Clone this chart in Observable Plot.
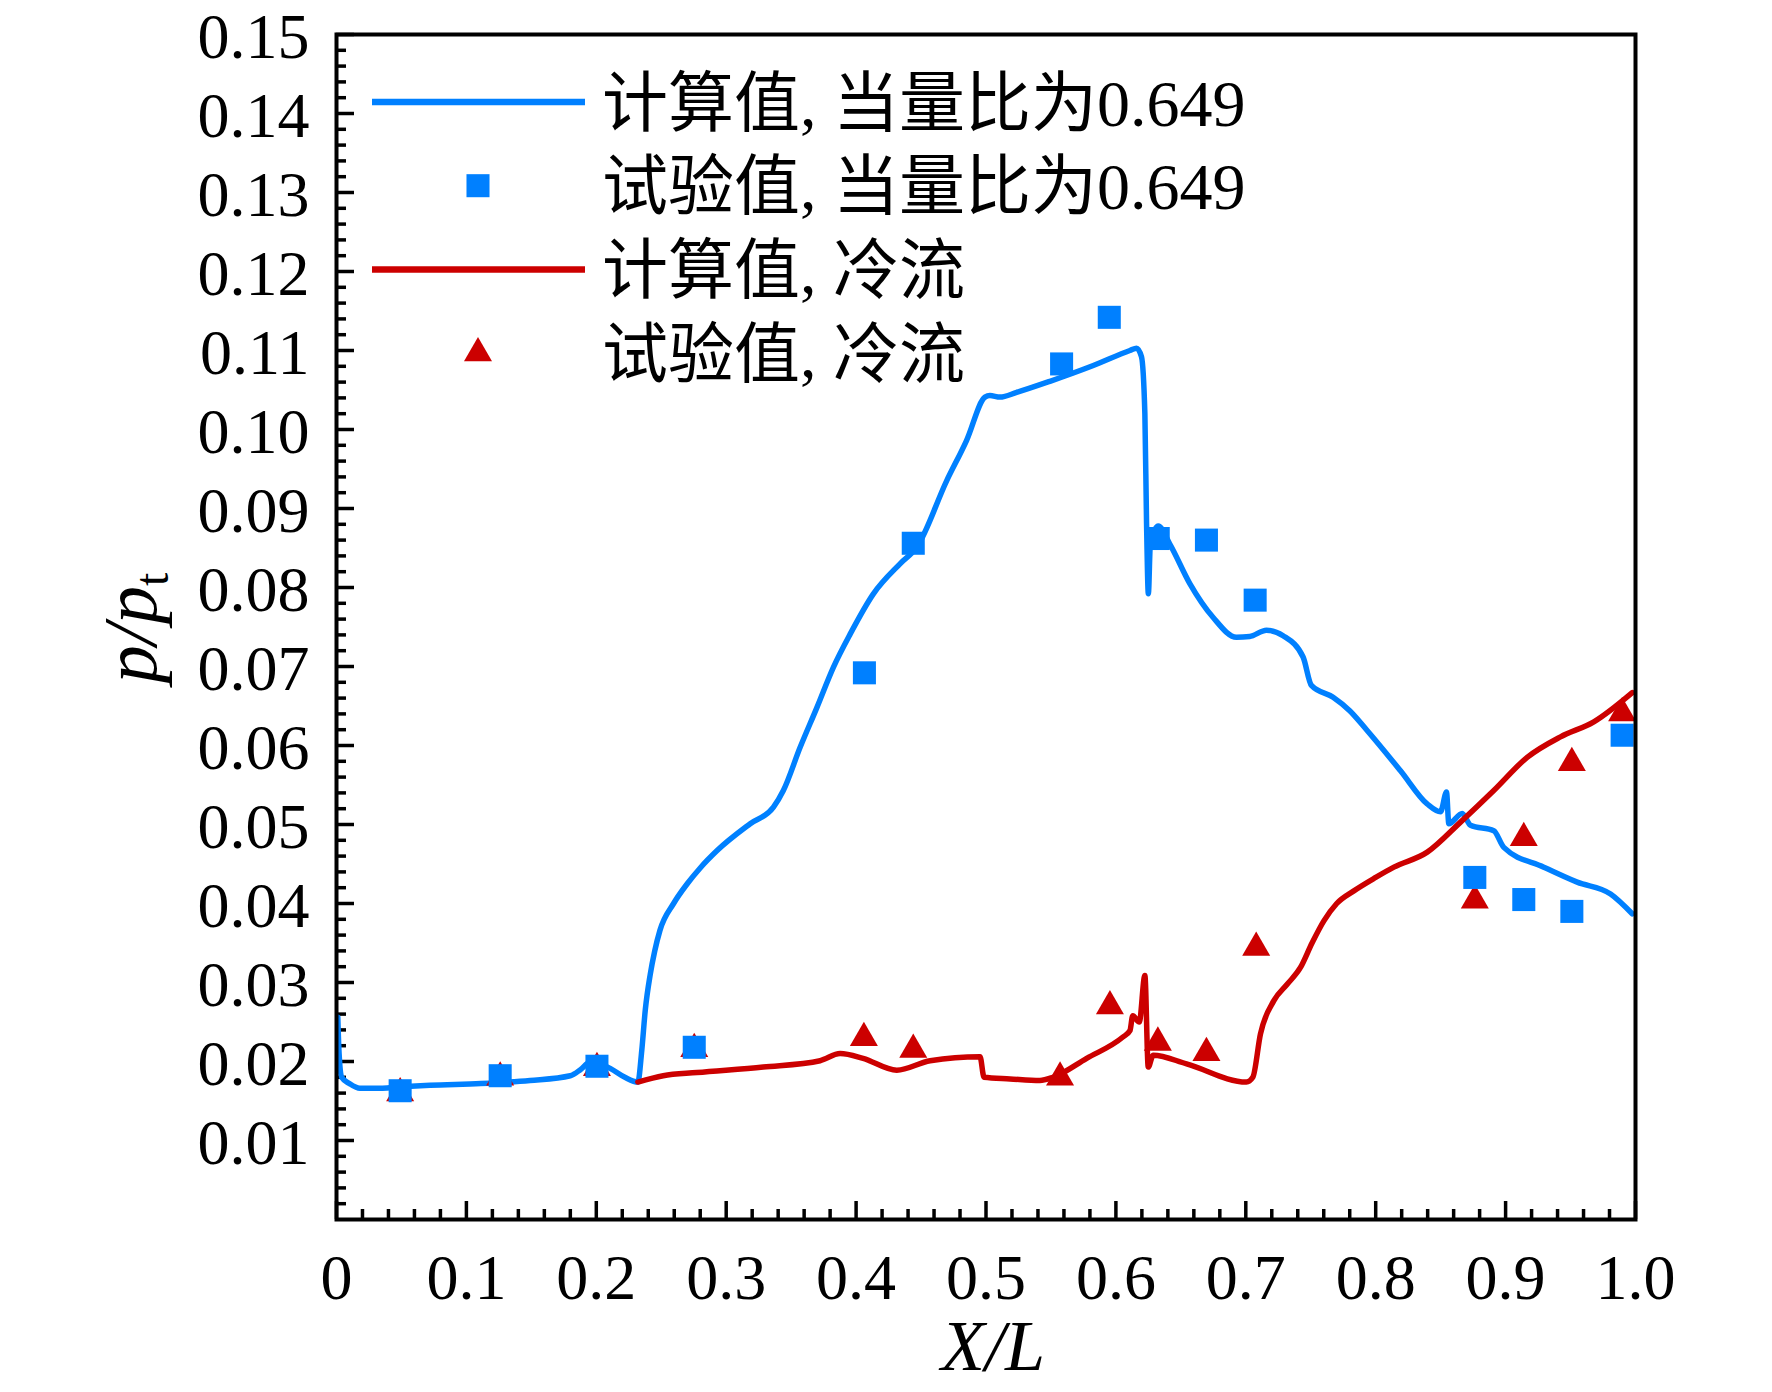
<!DOCTYPE html>
<html>
<head>
<meta charset="utf-8">
<script src="https://cdn.jsdelivr.net/npm/d3@7"></script>
<script src="https://cdn.jsdelivr.net/npm/@observablehq/plot@0.6"></script>
<style>
  html, body { margin: 0; padding: 0; background: #fff; }
  #chart svg { display: block; }
</style>
</head>
<body>
<div id="chart"></div>
<script>
// ---- Data ----
// 计算值, 当量比为0.649 (computed, equivalence ratio 0.649)
const blueX = [0.001,0.002,0.004,0.010,0.018,0.030,0.050,0.072,0.111,0.149,0.180,0.188,0.195,0.203,0.211,0.222,0.232,0.235,0.2377,0.2415,0.245,0.249,0.2595,0.270,0.280,0.293,0.3185,0.3364,0.344,0.357,0.3698,0.3825,0.3954,0.4133,0.4338,0.4467,0.4697,0.485,0.4992,0.503,0.5108,0.5236,0.5492,0.5826,0.6108,0.6159,0.6197,0.6223,0.6236,0.6250,0.6265,0.6326,0.6415,0.6569,0.6749,0.6928,0.703,0.7159,0.7287,0.7441,0.7505,0.7672,0.780,0.7934,0.8191,0.8396,0.8499,0.8545,0.8563,0.8666,0.873,0.8909,0.8986,0.9294,0.9551,0.9808,0.9975];
const blueP = [0.0256,0.0210,0.0180,0.0172,0.0166,0.0166,0.0168,0.0170,0.0172,0.0176,0.0182,0.0190,0.0199,0.0197,0.0191,0.0180,0.0174,0.0214,0.0265,0.0310,0.0340,0.0366,0.0400,0.0425,0.0445,0.0467,0.0501,0.0522,0.0543,0.0598,0.0648,0.0699,0.0741,0.0792,0.0830,0.0851,0.0935,0.0986,0.1041,0.1043,0.1041,0.1047,0.1061,0.1081,0.1100,0.1103,0.1092,0.1020,0.0881,0.0792,0.0855,0.0878,0.0855,0.0805,0.0762,0.0737,0.0738,0.0746,0.0739,0.0712,0.0676,0.0661,0.0644,0.0619,0.0568,0.0526,0.0516,0.0541,0.0501,0.0514,0.0499,0.0492,0.0471,0.0446,0.0427,0.0412,0.0387];

// 计算值, 冷流 (computed, cold flow)
const redX = [0.232,0.2515,0.2775,0.3285,0.3723,0.3877,0.4054,0.4313,0.457,0.4954,0.4985,0.5185,0.5415,0.5515,0.5775,0.6054,0.6108,0.613,0.618,0.6223,0.6249,0.6287,0.6544,0.7005,0.7054,0.7113,0.7216,0.7320,0.7421,0.7510,0.7601,0.7700,0.7832,0.800,0.814,0.8397,0.8653,0.8909,0.9166,0.9423,0.9679,0.9975];
const redP = [0.0174,0.0182,0.0186,0.0193,0.0201,0.0210,0.0204,0.0189,0.0201,0.0206,0.0180,0.0178,0.0176,0.0180,0.0204,0.0231,0.0239,0.0258,0.0250,0.0309,0.0193,0.0208,0.0197,0.0174,0.0180,0.0235,0.0277,0.0298,0.0319,0.0350,0.0378,0.0400,0.0416,0.0433,0.0446,0.0465,0.0503,0.0543,0.0585,0.0611,0.0630,0.0667];

// 试验值, 当量比为0.649 (experiment, squares)
const sqX = [0.049,0.126,0.2005,0.2754,0.4064,0.444,0.5582,0.5949,0.6326,0.6697,0.7072,0.8763,0.914,0.951,0.9897];
const sqP = [0.0163,0.0182,0.0194,0.0218,0.0692,0.0856,0.1083,0.1142,0.0862,0.0860,0.0784,0.0433,0.0405,0.0390,0.0613];

// 试验值, 冷流 (experiment, triangles)
const triX = [0.049,0.126,0.2005,0.2754,0.406,0.444,0.557,0.5954,0.6323,0.6697,0.708,0.8763,0.914,0.951,0.9897];
const triP = [0.0160,0.0180,0.0192,0.0216,0.0230,0.0215,0.0180,0.0270,0.0224,0.0211,0.0344,0.0404,0.0483,0.0578,0.0641];

// Ticks
const xMajor = [0,0.1,0.2,0.3,0.4,0.5,0.6,0.7,0.8,0.9,1.0];
const xMinor = d3.range(0, 51).filter(i => i % 5 !== 0).map(i => i / 50);
const yMajor = [0.01,0.02,0.03,0.04,0.05,0.06,0.07,0.08,0.09,0.10,0.11,0.12,0.13,0.14,0.15];
const yMinor = d3.range(1, 75).filter(i => i % 5 !== 0).map(i => i * 0.002);

// Legend
const legendLabels = ["计算值, 当量比为0.649", "试验值, 当量比为0.649", "计算值, 冷流", "试验值, 冷流"];
const legendKinds = ["line", "square", "line", "triangle"];

const BLUE = "#0080ff";
const RED = "#cc0000";
const legendColors = [BLUE, BLUE, RED, RED];

const blue = blueX.map((x, i) => ({x, p: blueP[i]}));
const red = redX.map((x, i) => ({x, p: redP[i]}));
const squares = sqX.map((x, i) => ({x, p: sqP[i]}));
const triangles = triX.map((x, i) => ({x, p: triP[i]}));

const W = 1772, H = 1392;
const mL = 336, mR = 137, mT = 34, mB = 173;
const innerW = W - mL - mR, innerH = H - mT - mB;

const plot = Plot.plot({
  width: W,
  height: H,
  marginLeft: mL,
  marginRight: mR,
  marginTop: mT,
  marginBottom: mB,
  style: {fontFamily: "'Liberation Serif', 'Times New Roman', serif", background: "#fff", color: "#000"},
  x: {domain: [0, 1]},
  y: {domain: [0, 0.15]},
  marks: [
    Plot.axisX(xMajor, {tickSize: 0, tickPadding: 34, fontSize: 64, label: null,
      tickFormat: d => d === 0 ? "0" : d3.format(".1f")(d)}),
    Plot.axisY(yMajor, {tickSize: 0, tickPadding: 27, fontSize: 64, label: null, dy: 3,
      tickFormat: d3.format(".2f")}),
    Plot.tickX(xMinor, {x: d => d, insetTop: innerH - 10, stroke: "#000", strokeWidth: 3.5}),
    Plot.tickX(xMajor, {x: d => d, insetTop: innerH - 18, stroke: "#000", strokeWidth: 3.5}),
    Plot.tickY(yMinor, {y: d => d, insetRight: innerW - 10, stroke: "#000", strokeWidth: 3.5}),
    Plot.tickY(yMajor, {y: d => d, insetRight: innerW - 18, stroke: "#000", strokeWidth: 3.5}),
    Plot.line(blue, {x: "x", y: "p", stroke: BLUE, strokeWidth: 5.5, strokeLinejoin: "round", strokeLinecap: "round", curve: "monotone-x"}),
    Plot.line(red, {x: "x", y: "p", stroke: RED, strokeWidth: 5.5, strokeLinejoin: "round", strokeLinecap: "round", curve: "monotone-x"}),
    Plot.dot(triangles, {x: "x", y: "p", symbol: "triangle", r: 10.4, fill: RED, stroke: "none"}),
    Plot.dot(squares, {x: "x", y: "p", symbol: "square", r: 13, fill: BLUE, stroke: "none"}),
    Plot.frame({stroke: "#000", strokeWidth: 4})
  ]
});

document.getElementById("chart").appendChild(plot);

const svg = d3.select(plot);

// Legend
const leg = svg.append("g")
  .attr("font-family", "'Liberation Serif', 'Noto Sans CJK SC', serif")
  .attr("font-size", 66)
  .attr("text-anchor", "start")
  .attr("fill", "#000");
legendLabels.forEach((label, i) => {
  const y = 102 + i * 83.7;
  const kind = legendKinds[i], color = legendColors[i];
  if (kind === "line") {
    leg.append("line").attr("x1", 372).attr("x2", 585).attr("y1", y).attr("y2", y)
      .attr("stroke", color).attr("stroke-width", 6.5);
  } else {
    const sym = kind === "square" ? d3.symbolSquare : d3.symbolTriangle;
    const r = kind === "square" ? 13 : 10.4;
    leg.append("path").attr("transform", `translate(478,${y})`)
      .attr("d", d3.symbol(sym, r * r * Math.PI)()).attr("fill", color);
  }
  leg.append("text").attr("x", 602).attr("y", y).attr("dy", "0.36em")
    .attr("text-anchor", "start").text(label);
});

// Y axis label: p/p_t
const yl = svg.append("text")
  .attr("transform", "translate(156,628) rotate(-90)")
  .attr("text-anchor", "middle")
  .attr("font-family", "'Liberation Serif', serif")
  .attr("font-size", 76)
  .attr("fill", "#000");
yl.append("tspan").attr("font-style", "italic").text("p/p");
yl.append("tspan").attr("font-size", 48).attr("dy", 12).text("t");

// X axis label: X/L
svg.append("text")
  .attr("x", 993).attr("y", 1370)
  .attr("text-anchor", "middle")
  .attr("font-family", "'Liberation Serif', serif")
  .attr("font-style", "italic")
  .attr("font-size", 72)
  .attr("fill", "#000")
  .text("X/L");
</script>
</body>
</html>
